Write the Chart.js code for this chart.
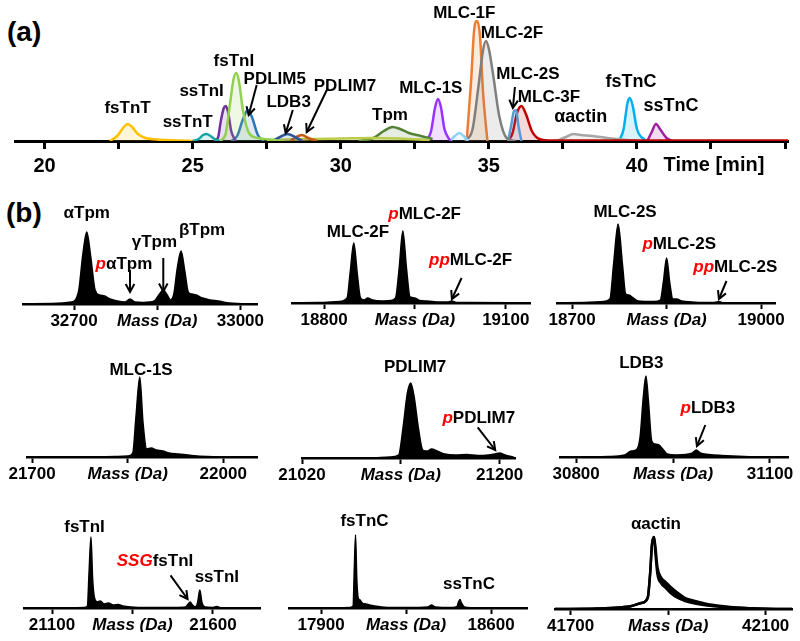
<!DOCTYPE html>
<html>
<head>
<meta charset="utf-8">
<script src="https://cdn.jsdelivr.net/npm/chart.js@4.4.1/dist/chart.umd.min.js"></script>
<style>
  body { margin: 0; background: #fff; width: 800px; height: 641px; position: relative; overflow: hidden;
         font-family: 'Liberation Sans', Arial, sans-serif; }
  canvas { position: absolute; }
  .panel { position: absolute; font-weight: bold; font-size: 28px; line-height: 28px; }
</style>
</head>
<body>
<div class="panel" style="left:7px;top:18px">(a)</div>
<div class="panel" style="left:6px;top:199px">(b)</div>
<script>
const FONT = "'Liberation Sans', Arial, sans-serif";

// ---- (a) chromatogram: retention time (min) / intensity
const timeTicks = [20, 22.5, 25, 27.5, 30, 32.5, 35, 37.5, 40, 42.5, 45];
const timeLabels = [20, 25, 30, 35, 40];

const tFsTnT = [22.2, 22.45, 22.65, 22.8, 22.95, 23.15, 23.4, 23.8, 24.5, 25.0];
const iFsTnT = [0, 5, 13, 17, 14, 7, 3, 1.5, 0.5, 0];
const tSsTnT = [25.0, 25.2, 25.35, 25.47, 25.6, 25.75, 25.9];
const iSsTnT = [0, 2, 6, 7, 5, 2, 0];
const tSsTnI = [25.7, 25.85, 25.95, 26.05, 26.12, 26.2, 26.3, 26.45];
const iSsTnI = [0, 3, 20, 33, 35, 28, 10, 0];
const tFsTnI = [25.9, 26.1, 26.25, 26.38, 26.47, 26.56, 26.7, 26.9, 27.2, 27.6, 28.0];
const iFsTnI = [0, 6, 35, 62, 68, 60, 30, 8, 3, 1.5, 0];
const tPdlim5 = [26.3, 26.5, 26.7, 26.86, 27.0, 27.2, 27.4];
const iPdlim5 = [0, 5, 22, 31, 24, 6, 0];
const tLdb3 = [27.7, 27.95, 28.2, 28.45, 28.7];
const iLdb3 = [0, 4, 7, 4, 0];
const tPdlim7 = [28.3, 28.5, 28.68, 28.9, 29.2];
const iPdlim7 = [0, 4, 6, 3, 0];
const tBack = [27.5, 29, 30, 31, 32, 33];
const iBack = [1, 2, 2.5, 3, 2.5, 1];
const tTpm = [30.6, 31.1, 31.45, 31.75, 32.0, 32.3, 32.7, 33.1];
const iTpm = [0, 3, 10, 14, 12, 8, 5, 2];
const tMlc1s = [32.9, 33.05, 33.18, 33.28, 33.38, 33.5, 33.7];
const iMlc1s = [0, 10, 33, 42, 34, 12, 0];
const tSmall = [33.7, 33.85, 34.0, 34.15, 34.3];
const iSmall = [0, 5, 8, 5, 0];
const tMlc1f = [34.25, 34.4, 34.5, 34.6, 34.7, 34.8, 34.95];
const iMlc1f = [0, 60, 110, 120, 105, 50, 0];
const tMlc2f = [34.2, 34.45, 34.65, 34.8, 34.9, 35.0, 35.15, 35.35, 35.6, 35.9];
const iMlc2f = [0, 12, 55, 90, 100, 92, 65, 25, 3, 0];
const tMlc2s = [35.65, 35.75, 35.85, 35.92, 36.0, 36.1];
const iMlc2s = [0, 15, 30, 31, 15, 0];
const tMlc3f = [35.65, 35.8, 35.95, 36.1, 36.25, 36.45, 36.7, 37.0, 41.0, 45.1];
const iMlc3f = [0, 8, 28, 35, 27, 10, 2, 0.6, 0.6, 0.6];
const tActin = [37.3, 37.6, 37.85, 38.1, 38.5, 39.0, 39.5, 40.0];
const iActin = [0, 4, 7, 6, 5, 3, 1.5, 0];
const tFsTnC = [39.4, 39.55, 39.68, 39.76, 39.85, 40.0, 40.3];
const iFsTnC = [0, 12, 38, 43, 36, 12, 0];
const tSsTnC = [40.35, 40.5, 40.64, 40.8, 41.0, 41.2];
const iSsTnC = [0, 9, 17, 11, 3, 0];

// ---- (b) deconvoluted spectra: mass (Da) / intensity
const tpmTicks = [32700, 32850, 33000];
const tpmMass = [32608, 32660, 32695, 32708, 32716, 32723, 32730, 32738, 32746, 32755, 32765, 32778, 32792, 32801, 32810, 32825, 32845, 32853, 32861, 32868, 32874, 32880, 32886, 32893, 32900, 32906, 32912, 32920, 32932, 32945, 32960, 32980, 33030];
const tpmInt = [0, 0.5, 2, 12, 50, 72, 48, 14, 9, 8, 5, 3, 2, 5, 2, 1.5, 3, 9, 14, 9, 4, 10, 35, 53, 32, 12, 10, 9, 6, 4, 3, 1, 0];

const mlc2fTicks = [18800, 18950, 19100];
const mlc2fMass = [18747, 18790, 18825, 18838, 18843, 18849, 18855, 18860, 18866, 18872, 18880, 18895, 18910, 18918, 18924, 18930, 18936, 18942, 18950, 18958, 18970, 18990, 19005, 19011, 19018, 19040, 19140];
const mlc2fInt = [0, 0.5, 1.5, 5, 30, 60, 28, 5, 3, 5, 3, 2, 2.5, 5, 35, 72, 35, 6, 5, 2.5, 2, 1, 1, 2, 0.5, 0.5, 0];

const mlc2sTicks = [18700, 18850, 19000];
const mlc2sMass = [18676, 18720, 18750, 18760, 18766, 18773, 18780, 18785, 18790, 18797, 18805, 18815, 18830, 18840, 18845, 18850, 18855, 18860, 18866, 18874, 18890, 18910, 18926, 18933, 18940, 19022];
const mlc2sInt = [0, 0.5, 1.5, 4, 40, 79, 38, 9, 8, 5, 2, 1.5, 1.5, 3, 22, 45, 20, 4, 4, 2, 1, 0.5, 0.5, 1.5, 0.3, 0];

const mlc1sTicks = [21700, 21850, 22000];
const mlc1sMass = [21692, 21780, 21830, 21850, 21858, 21863, 21869, 21874, 21880, 21887, 21895, 21905, 21915, 21930, 21950, 21975, 22053];
const mlc1sInt = [0, 0, 0.5, 1, 4, 40, 80, 35, 8, 9, 7, 6, 4, 3, 1.5, 0.5, 0];

const pdlim7Ticks = [21020, 21110, 21200];
const pdlim7Mass = [21020, 21080, 21100, 21108, 21112, 21116, 21119, 21122, 21126, 21130, 21134, 21138, 21143, 21150, 21160, 21170, 21180, 21190, 21196, 21200, 21205, 21212, 21214];
const pdlim7Int = [0, 0, 1, 3, 30, 65, 75, 62, 30, 8, 7, 9, 7, 4, 3, 3.5, 2.5, 3, 4, 5, 3, 1, 0];

const ldb3Ticks = [30800, 30950, 31100];
const ldb3Mass = [30775, 30850, 30875, 30885, 30893, 30899, 30904, 30908, 30912, 30917, 30922, 30928, 30934, 30941, 30955, 30970, 30980, 30986, 30992, 31005, 31025, 31060, 31128];
const ldb3Int = [0, 0.5, 2, 6, 7, 20, 60, 81, 55, 16, 13, 12, 8, 3, 2, 2.5, 4, 7, 4, 2.5, 1.5, 0.5, 0];

const tniTicks = [21100, 21350, 21600];
const tniMass = [21013, 21150, 21200, 21210, 21215, 21221, 21226, 21232, 21240, 21250, 21262, 21275, 21290, 21305, 21320, 21345, 21400, 21480, 21515, 21523, 21529, 21536, 21545, 21552, 21559, 21566, 21575, 21600, 21612, 21625, 21746];
const tniInt = [0, 0, 0.5, 2, 35, 71, 30, 10, 6, 7, 4, 5, 3, 3.5, 2, 1, 0.5, 0.5, 1, 4, 6, 3, 1, 5, 18, 5, 1, 0.5, 1.5, 0.3, 0];

const tncTicks = [17900, 18250, 18600];
const tncMass = [17768, 17950, 18020, 18032, 18037, 18042, 18047, 18053, 18060, 18070, 18085, 18100, 18120, 18150, 18200, 18300, 18340, 18355, 18370, 18440, 18460, 18466, 18472, 18478, 18490, 18520, 18748];
const tncInt = [0, 0, 0.5, 2, 40, 73, 30, 10, 8, 5, 4, 3, 2, 1, 0.5, 0.5, 1, 3, 1, 0.5, 1.5, 6, 8.5, 5, 1, 0.3, 0];

const actinTicks = [41700, 41900, 42100];
const actinMass = [41668, 41755, 41800, 41825, 41845, 41858, 41863, 41867, 41871, 41874, 41878, 41885, 41895, 41905, 41920, 41935, 41955, 41980, 42010, 42040, 42100, 42154];
const actinUpper = [0, 0.5, 1.5, 3, 6, 11, 35, 65, 72, 62, 42, 32, 27, 22, 16, 11, 8, 5, 3, 1.5, 0.3, 0];
const actinLower = [0, 0.5, 1.5, 3, 6, 11, 35, 65, 72, 55, 35, 26, 21, 16, 11, 8, 5.5, 3.5, 2, 1.2, 0.3, 0];

Chart.defaults.font.family = FONT;
Chart.defaults.color = '#000';

const RED = '#ff0000';
const red = t => ({ t: t, c: RED, i: true });

function rgba(hex, a) {
  const n = parseInt(hex.slice(1), 16);
  return `rgba(${n >> 16},${(n >> 8) & 255},${n & 255},${a})`;
}
function pts(xs, ys) { return xs.map((x, i) => ({ x: x, y: ys[i] })); }

// labels and arrows placed in data units, drawn through the chart's scales
function notesPlugin(labels, arrows) {
  return {
    id: 'notes',
    afterDraw(chart) {
      const { ctx } = chart;
      const x = chart.scales.x, y = chart.scales.y;
      ctx.save();
      arrows.forEach(a => {
        const x1 = x.getPixelForValue(a[0]), y1 = y.getPixelForValue(a[1]);
        const x2 = x.getPixelForValue(a[2]), y2 = y.getPixelForValue(a[3]);
        ctx.strokeStyle = '#000';
        ctx.lineWidth = 2;
        ctx.beginPath(); ctx.moveTo(x1, y1); ctx.lineTo(x2, y2); ctx.stroke();
        const ang = Math.atan2(y2 - y1, x2 - x1), L = 9;
        ctx.beginPath();
        ctx.moveTo(x2 - L * Math.cos(ang - 0.5), y2 - L * Math.sin(ang - 0.5));
        ctx.lineTo(x2, y2);
        ctx.lineTo(x2 - L * Math.cos(ang + 0.5), y2 - L * Math.sin(ang + 0.5));
        ctx.stroke();
      });
      labels.forEach(l => {
        const parts = (typeof l.text === 'string' ? [l.text] : l.text).map(p => typeof p === 'string' ? { t: p } : p);
        const size = l.size || 17;
        const fontOf = p => `${p.i ? 'italic ' : ''}bold ${size}px ${FONT}`;
        let w = 0;
        parts.forEach(p => { ctx.font = fontOf(p); w += ctx.measureText(p.t).width; });
        let px = x.getPixelForValue(l.x) - w / 2;
        const py = y.getPixelForValue(l.y);
        ctx.textBaseline = 'middle';
        ctx.textAlign = 'left';
        parts.forEach(p => {
          ctx.font = fontOf(p);
          ctx.fillStyle = p.c || '#000';
          ctx.fillText(p.t, px, py);
          px += ctx.measureText(p.t).width;
        });
      });
      ctx.restore();
    }
  };
}

function addCanvas(left, top, w, h) {
  const c = document.createElement('canvas');
  c.width = w; c.height = h;
  c.style.left = left + 'px'; c.style.top = top + 'px';
  c.style.width = w + 'px'; c.style.height = h + 'px';
  document.body.appendChild(c);
  return c;
}

// ---------- panel (a)
const peaks = [
  { c: '#ffc000', t: tFsTnT, v: iFsTnT },
  { c: '#1aa5a5', t: tSsTnT, v: iSsTnT },
  { c: '#92d050', t: tFsTnI, v: iFsTnI },
  { c: '#7030a0', t: tSsTnI, v: iSsTnI },
  { c: '#2e75b6', t: tPdlim5, v: iPdlim5 },
  { c: '#2f5597', t: tLdb3, v: iLdb3 },
  { c: '#c55a11', t: tPdlim7, v: iPdlim7 },
  { c: '#bccc4a', t: tBack, v: iBack },
  { c: '#548235', t: tTpm, v: iTpm },
  { c: '#9933ff', t: tMlc1s, v: iMlc1s },
  { c: '#8fd3f5', t: tSmall, v: iSmall },
  { c: '#7f7f7f', t: tMlc2f, v: iMlc2f },
  { c: '#ed7d31', t: tMlc1f, v: iMlc1f },
  { c: '#5b9bd5', t: tMlc2s, v: iMlc2s },
  { c: '#c00000', t: tMlc3f, v: iMlc3f },
  { c: '#a6a6a6', t: tActin, v: iActin },
  { c: '#00b0f0', t: tFsTnC, v: iFsTnC },
  { c: '#a020a0', t: tSsTnC, v: iSsTnC },
];

const chromLabels = [
  { text: 'fsTnT', x: 22.8, y: 33 },
  { text: 'ssTnT', x: 24.83, y: 19 },
  { text: 'ssTnI', x: 25.3, y: 50 },
  { text: 'fsTnI', x: 26.39, y: 80 },
  { text: 'PDLIM5', x: 27.77, y: 62 },
  { text: 'LDB3', x: 28.24, y: 39 },
  { text: 'PDLIM7', x: 30.14, y: 55 },
  { text: 'Tpm', x: 31.66, y: 26 },
  { text: 'MLC-1S', x: 33.04, y: 53 },
  { text: 'MLC-1F', x: 34.17, y: 128 },
  { text: 'MLC-2F', x: 35.78, y: 108 },
  { text: 'MLC-2S', x: 36.32, y: 67 },
  { text: 'MLC-3F', x: 37.03, y: 44 },
  { text: 'αactin', x: 38.1, y: 24, size: 18 },
  { text: 'fsTnC', x: 39.8, y: 59, size: 18 },
  { text: 'ssTnC', x: 41.15, y: 35, size: 18 },
  { text: 'Time [min]', x: 42.6, y: -24, size: 20 }
];
const chromArrows = [
  [27.16, 56, 26.89, 26],
  [28.38, 31, 28.14, 8],
  [29.56, 53, 28.85, 9],
  [35.88, 54, 35.81, 33]
];

new Chart(addCanvas(0, 0, 800, 185), {
  type: 'line',
  data: {
    datasets: peaks.map(p => ({
      data: pts(p.t, p.v),
      borderColor: p.c,
      backgroundColor: rgba(p.c, 0.15),
      fill: 'origin',
      borderWidth: 2.5,
      pointRadius: 0,
      cubicInterpolationMode: 'monotone'
    }))
  },
  options: {
    responsive: false, animation: false, events: [],
    layout: { padding: { left: 15, right: 12, top: 10, bottom: 4 } },
    scales: {
      x: {
        type: 'linear', min: 19, max: 45.1,
        afterBuildTicks: s => { s.ticks = timeTicks.map(v => ({ value: v })); },
        afterFit: s => { s.height = 40; },
        border: { display: true, color: '#000', width: 3 },
        grid: { drawOnChartArea: false, drawTicks: true, tickLength: 8, tickWidth: 3, tickColor: '#000' },
        ticks: { autoSkip: false, maxRotation: 0, padding: 5, color: '#000',
                 font: { size: 20, weight: 'bold' },
                 callback: v => timeLabels.includes(v) ? String(v) : '' }
      },
      y: { display: false, min: 0, max: 131 }
    },
    plugins: { legend: { display: false }, tooltip: { enabled: false } }
  },
  plugins: [notesPlugin(chromLabels, chromArrows)]
});

// ---------- panel (b)
const cells = [
  { left: 0,   top: 185, w: 270, h: 150, base: 304, axL: 23,  axR: 257, min: 32608, max: 33030, ticks: tpmTicks,
    series: [pts(tpmMass, tpmInt)],
    labels: [{ text: 'αTpm', x: 32723, y: 91 }, { text: [red('p'), 'αTpm'], x: 32790, y: 40 },
             { text: 'γTpm', x: 32845, y: 61.5 }, { text: 'βTpm', x: 32931, y: 74 }],
    arrows: [[32801, 34, 32801, 12], [32861, 46, 32861, 12.5]] },
  { left: 270, top: 185, w: 270, h: 150, base: 303, axL: 292, axR: 530, min: 18747, max: 19140, ticks: mlc2fTicks,
    series: [pts(mlc2fMass, mlc2fInt)],
    labels: [{ text: 'MLC-2F', x: 18856, y: 71 }, { text: [red('p'), 'MLC-2F'], x: 18966, y: 89 },
             { text: [red('pp'), 'MLC-2F'], x: 19042, y: 43 }],
    arrows: [[19027, 25, 19011, 4]] },
  { left: 540, top: 185, w: 260, h: 150, base: 303, axL: 557, axR: 775, min: 18676, max: 19022, ticks: mlc2sTicks,
    series: [pts(mlc2sMass, mlc2sInt)],
    labels: [{ text: 'MLC-2S', x: 18784, y: 91 }, { text: [red('p'), 'MLC-2S'], x: 18870, y: 59 },
             { text: [red('pp'), 'MLC-2S'], x: 18959, y: 36 }],
    arrows: [[18945, 22, 18933, 4]] },
  { left: 0,   top: 330, w: 270, h: 160, base: 457, axL: 27,  axR: 257, min: 21692, max: 22053, ticks: mlc1sTicks,
    series: [pts(mlc1sMass, mlc1sInt)],
    labels: [{ text: 'MLC-1S', x: 21871, y: 87 }], arrows: [] },
  { left: 270, top: 330, w: 270, h: 160, base: 458, axL: 302, axR: 515, min: 21020, max: 21214, ticks: pdlim7Ticks,
    series: [pts(pdlim7Mass, pdlim7Int)],
    labels: [{ text: 'PDLIM7', x: 21123, y: 91 }, { text: [red('p'), 'PDLIM7'], x: 21181, y: 40 }],
    arrows: [[21180, 30.6, 21196, 8]] },
  { left: 540, top: 330, w: 260, h: 160, base: 457, axL: 560, axR: 788, min: 30775, max: 31128, ticks: ldb3Ticks,
    series: [pts(ldb3Mass, ldb3Int)],
    labels: [{ text: 'LDB3', x: 30901, y: 94 }, { text: [red('p'), 'LDB3'], x: 31004, y: 48.5 }],
    arrows: [[31000, 32, 30987, 11]] },
  { left: 0,   top: 480, w: 270, h: 161, base: 608, axL: 24,  axR: 260, min: 21013, max: 21746, ticks: tniTicks,
    series: [pts(tniMass, tniInt)],
    labels: [{ text: 'fsTnI', x: 21201, y: 80.5 }, { text: [red('SSG'), 'fsTnI'], x: 21420, y: 47 },
             { text: 'ssTnI', x: 21612, y: 31 }],
    arrows: [[21468, 32.6, 21521, 9]] },
  { left: 270, top: 480, w: 270, h: 161, base: 608, axL: 289, axR: 527, min: 17768, max: 18748, ticks: tncTicks,
    series: [pts(tncMass, tncInt)],
    labels: [{ text: 'fsTnC', x: 18079, y: 87 }, { text: 'ssTnC', x: 18509, y: 24 }], arrows: [] },
  { left: 540, top: 480, w: 260, h: 161, base: 609, axL: 555, axR: 792, min: 41668, max: 42154, ticks: actinTicks,
    series: [pts(actinMass, actinUpper), pts(actinMass, actinLower)], outline: true,
    labels: [{ text: 'αactin', x: 41875, y: 85 }], arrows: [] },
];

const AXIS_H = 24;
cells.forEach(cell => {
  const datasets = cell.series.map((d, k) => ({
    data: d,
    borderColor: '#000',
    backgroundColor: '#000',
    fill: cell.outline ? (k === 0 ? '+1' : false) : 'origin',
    borderWidth: cell.outline ? 2.5 : 1.5,
    pointRadius: 0,
    cubicInterpolationMode: 'monotone'
  }));
  new Chart(addCanvas(cell.left, cell.top, cell.w, cell.h), {
    type: 'line',
    data: { datasets },
    options: {
      responsive: false, animation: false, events: [],
      layout: { padding: {
        left: cell.axL - cell.left,
        right: cell.left + cell.w - cell.axR,
        top: 10,
        bottom: cell.top + cell.h - cell.base - AXIS_H
      } },
      scales: {
        x: {
          type: 'linear', min: cell.min, max: cell.max,
          afterBuildTicks: s => { s.ticks = cell.ticks.map(v => ({ value: v })); },
          afterFit: s => { s.height = AXIS_H; },
          border: { display: true, color: '#000', width: 2.5 },
          grid: { drawOnChartArea: false, drawTicks: true, tickLength: 6, tickWidth: 2, tickColor: '#000' },
          ticks: { autoSkip: false, maxRotation: 0, padding: 1, color: '#000',
                   font: c => ({ size: 17, weight: 'bold', style: c.index === 1 ? 'italic' : 'normal' }),
                   callback: (v, i) => i === 1 ? 'Mass (Da)' : String(v) }
        },
        y: { display: false, min: 0, max: cell.base - cell.top - 10 }
      },
      plugins: { legend: { display: false }, tooltip: { enabled: false } }
    },
    plugins: [notesPlugin(cell.labels, cell.arrows)]
  });
});
</script>
</body>
</html>
